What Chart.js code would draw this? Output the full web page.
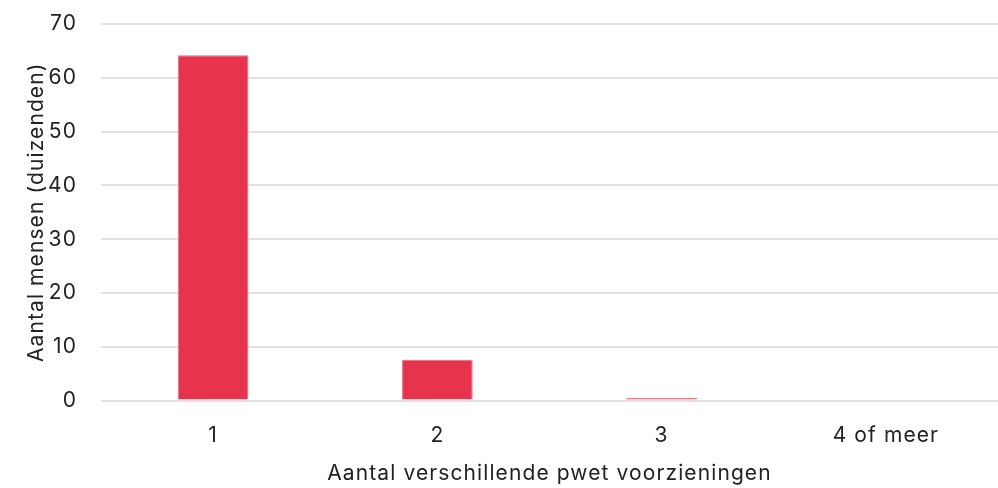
<!DOCTYPE html>
<html>
<head>
<meta charset="utf-8">
<script src="https://cdn.jsdelivr.net/npm/chart.js@4"></script>
<style>
  html, body { margin: 0; padding: 0; background: #fff; }
  #wrap { width: 998px; height: 488px; }
</style>
</head>
<body>
<div id="wrap"><canvas id="chart" width="998" height="488"></canvas></div>
<script>
// categorieen en waarden (duizenden mensen)
const categories = ['1', '2', '3', '4 of meer'];
const aantalMensen = [64.2, 7.6, 0.5, 0];
const yTicks = [0, 10, 20, 30, 40, 50, 60, 70];

const fontFam = 'Inter, "Open Sans", sans-serif';
const txtFont = { family: fontFam, size: 21, weight: 400 };

// iets bredere letters, zoals in het origineel (canvas reset wist de state, dus telkens opnieuw zetten)
const spacing = {
    id: 'spacing',
    beforeUpdate: chart => { chart.ctx.letterSpacing = '1.1px'; },
    beforeDraw: chart => { chart.ctx.letterSpacing = '1.1px'; }
};

new Chart(document.getElementById('chart').getContext('2d'), {
    type: 'bar',
    data: {
        labels: categories,
        datasets: [{
            label: 'Aantal mensen',
            data: aantalMensen,
            backgroundColor: '#e6344c',
            borderColor: '#ef6a7a',
            borderWidth: 1,
            categoryPercentage: 1.0,
            barPercentage: 0.315
        }]
    },
    plugins: [spacing],
    options: {
        responsive: false,
        animation: false,
        layout: { padding: { top: 24, right: 0, left: 20, bottom: -2 } },
        plugins: { legend: { display: false }, tooltip: { enabled: false } },
        scales: {
            x: {
                grid: { display: false },
                border: { display: false },
                ticks: { color: '#222', font: txtFont, padding: 14 },
                title: { display: true, text: 'Aantal verschillende pwet voorzieningen', color: '#222', font: txtFont, padding: { top: -1 } }
            },
            y: {
                min: 0, max: 70,
                afterBuildTicks: axis => { axis.ticks = yTicks.map(v => ({ value: v })); },
                afterFit: axis => { axis.paddingTop = 0; axis.paddingBottom = 0; axis.width = 81; },
                grid: { color: '#dfe1e4', lineWidth: 2, drawTicks: false },
                border: { display: false },
                ticks: { color: '#222', font: txtFont, padding: 24 },
                title: { display: true, text: 'Aantal mensen (duizenden)', color: '#222', font: txtFont, padding: { bottom: 2 } }
            }
        }
    }
});
</script>
</body>
</html>
